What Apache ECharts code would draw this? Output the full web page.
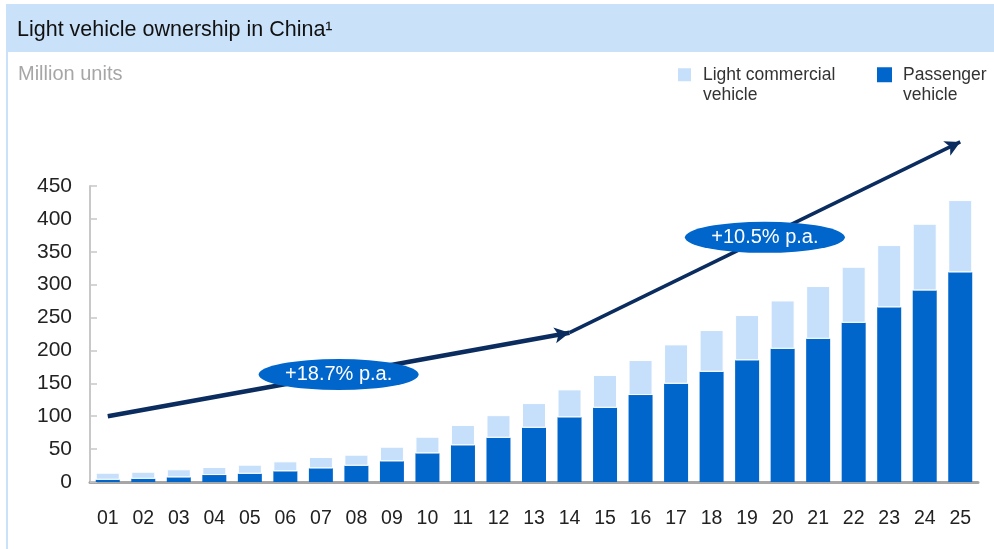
<!DOCTYPE html>
<html>
<head>
<meta charset="utf-8">
<script src="https://cdn.jsdelivr.net/npm/echarts@6/dist/echarts.min.js"></script>
<style>
  html, body { margin: 0; padding: 0; background: #fff; }
  #chart { width: 994px; height: 549px; }
</style>
</head>
<body>
<div id="chart"></div>
<script>
const years = ['01', '02', '03', '04', '05', '06', '07', '08', '09', '10', '11', '12', '13',
               '14', '15', '16', '17', '18', '19', '20', '21', '22', '23', '24', '25'];
// million units
const passenger = [3.5, 5, 7.1, 10.6, 12.6, 16.3, 20.8, 24.8, 31.5, 43.6, 55.8, 67.3, 82.5,
                   98.3, 112.9, 132.2, 149.4, 167.6, 185, 202.6, 217.8, 242.1, 265.5, 291.3, 318.7];
const lightCommercial = [10.6, 10.6, 12.2, 12.2, 13.7, 15.1, 17.2, 16.7, 22.1, 25.2, 30.8, 34.3, 37.5,
                         42.5, 49.7, 53.2, 59.8, 63.4, 68.8, 73.4, 80.1, 85.1, 94.7, 101.3, 109.9];
// trend arrows (start, bend, end) and their growth labels
const trendYears = ['01', '14', '25'];
const trendValues = [100, 227, 517];
const cagrLabels = ['+18.7% p.a.', '+10.5% p.a.'];
const yTicks = { min: 0, max: 450, interval: 50 };

const FONT = "'Liberation Sans', Arial, Helvetica, sans-serif";
const NAVY = '#0b2c5f';
const BLUE = '#0066cc';
const LIGHT = '#c6dffa';

// plot area
const gridLeft = 90, gridRight = 16, gridTop = 186, gridBottom = 67;
const plotH = 549 - gridTop - gridBottom;
// overlay grid with the same scale but taller range so the arrow can run above 450
const overlayMax = 600;
const overlayTop = 549 - gridBottom - overlayMax * plotH / yTicks.max;

const chart = echarts.init(document.getElementById('chart'));

const tx = trendYears.map(y => years.indexOf(y));
const segments = [];
const badges = [];
for (let i = 0; i < tx.length - 1; i++) {
    segments.push([
        { coord: [tx[i], trendValues[i]], symbol: 'none', lineStyle: { width: i === 0 ? 4.5 : 3.5 } },
        { coord: [tx[i + 1], trendValues[i + 1]], symbol: 'arrow' }
    ]);
    badges.push({
        coord: [(tx[i] + tx[i + 1]) / 2, (trendValues[i] + trendValues[i + 1]) / 2],
        value: cagrLabels[i]
    });
}

// leading blank line keeps the icon level with the first text line
const legendBase = {
    top: 44, padding: 0, icon: 'rect', itemWidth: 15, itemHeight: 15,
    formatter: name => '\n' + name,
    textStyle: { fontFamily: FONT, fontSize: 17.5, color: '#333', lineHeight: 20.5, padding: [0, 0, 0, 6] }
};

chart.setOption({
    animation: false,
    textStyle: { fontFamily: FONT },
    graphic: [
        { type: 'rect', z: -10, shape: { x: 6, y: 4, width: 988, height: 48 }, style: { fill: '#c9e1f9' } },
        { type: 'rect', z: -10, shape: { x: 6, y: 52, width: 2, height: 497 }, style: { fill: '#c9e1f9' } }
    ],
    title: [
        {
            text: 'Light vehicle ownership in China¹', left: 17, top: 19, padding: 0,
            textStyle: { fontFamily: FONT, fontSize: 21.5, fontWeight: 'normal', color: '#111' }
        },
        {
            text: 'Million units', left: 18, top: 64, padding: 0,
            textStyle: { fontFamily: FONT, fontSize: 20, fontWeight: 'normal', color: '#a6a6a6' }
        }
    ],
    legend: [
        Object.assign({ data: ['Light commercial\nvehicle'], left: 676 }, legendBase),
        Object.assign({ data: ['Passenger\nvehicle'], left: 877 }, legendBase)
    ],
    grid: [
        { left: gridLeft, right: gridRight, top: gridTop, bottom: gridBottom },
        { left: gridLeft, right: gridRight, top: overlayTop, bottom: gridBottom }
    ],
    xAxis: [
        {
            type: 'category', data: years, gridIndex: 0,
            axisLine: { lineStyle: { color: '#a6a6a6', width: 3 } },
            axisTick: { show: false },
            axisLabel: { fontSize: 19.5, color: '#222', margin: 27 }
        },
        { type: 'value', gridIndex: 1, min: -0.5, max: years.length - 0.5, show: false }
    ],
    yAxis: [
        {
            type: 'value', gridIndex: 0, min: yTicks.min, max: yTicks.max, interval: yTicks.interval,
            axisLine: { show: true, lineStyle: { color: '#c8c8c8', width: 2 } },
            axisTick: { show: true, inside: true, length: 7, lineStyle: { color: '#c8c8c8', width: 1.5 } },
            splitLine: { show: false },
            axisLabel: { fontSize: 21, color: '#222', margin: 18 }
        },
        { type: 'value', gridIndex: 1, min: 0, max: overlayMax, show: false }
    ],
    series: [
        {
            name: 'Passenger\nvehicle', type: 'bar', stack: 'total', data: passenger,
            barWidth: 24, itemStyle: { color: BLUE }
        },
        {
            name: 'Light commercial\nvehicle', type: 'bar', stack: 'total', data: lightCommercial,
            barWidth: 24, itemStyle: { color: LIGHT, borderColor: '#fff', borderWidth: 1 }
        },
        {
            name: 'trend', type: 'line', xAxisIndex: 1, yAxisIndex: 1, data: [],
            silent: true,
            markLine: {
                silent: true,
                symbol: ['none', 'arrow'],
                symbolSize: [12, 15],
                label: { show: false },
                lineStyle: { color: NAVY, type: 'solid', width: 4 },
                emphasis: { disabled: true },
                data: segments
            },
            markPoint: {
                silent: true,
                symbol: 'path://M0,50A50,50,0,1,1,100,50A50,50,0,1,1,0,50Z',
                symbolSize: [160, 31],
                symbolKeepAspect: false,
                itemStyle: { color: BLUE },
                label: {
                    show: true, position: 'inside', color: '#fff', fontSize: 20, fontFamily: FONT,
                    formatter: p => p.value
                },
                data: badges
            }
        }
    ]
});
</script>
</body>
</html>
